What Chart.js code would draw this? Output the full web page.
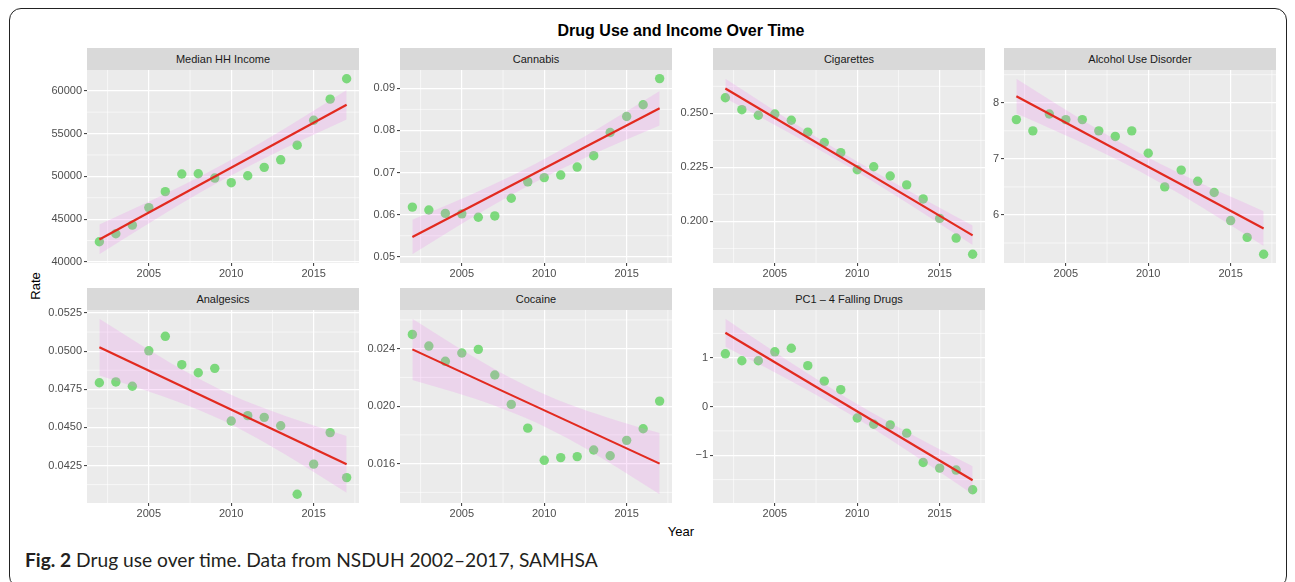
<!DOCTYPE html>
<html lang="en">
<head>
<meta charset="UTF-8">
<title>Drug Use and Income Over Time</title>
<script src="https://cdn.jsdelivr.net/npm/chart.js"></script>
<style>
  body { margin: 0; background: #fff; width: 1295px; height: 582px; position: relative; overflow: hidden;
         font-family: 'Liberation Sans', Arial, sans-serif; }
  #frame { position: absolute; left: 9px; top: 8px; width: 1276px; height: 578px; border: 1.5px solid #222; border-radius: 12px; }
  #title { position: absolute; left: 87px; width: 1188px; top: 22px; text-align: center; font-weight: bold;
           font-size: 16px; line-height: 18px; color: #000; }
  .strip { position: absolute; width: 272px; height: 22px; line-height: 22px; background: #d9d9d9; color: #1a1a1a;
           font-size: 11px; text-align: center; }
  .panel { position: absolute; }
  #ylab { position: absolute; left: 35px; top: 286px; transform: translate(-50%, -50%) rotate(-90deg); font-size: 13px; color: #000; }
  #xlab { position: absolute; left: 681px; top: 531px; transform: translate(-50%, -50%); font-size: 13px; color: #000; }
  #caption { position: absolute; left: 25px; top: 548px; font-family: Lato, sans-serif; font-size: 19.2px; color: #231f20; white-space: nowrap; }
</style>
</head>
<body>
  <div id="frame"></div>
  <div id="title">Drug Use and Income Over Time</div>
  <div id="ylab">Rate</div>
  <div id="xlab">Year</div>
  <div id="caption"><b>Fig. 2</b> Drug use over time. Data from NSDUH 2002–2017, SAMHSA</div>
  <div id="panels"></div>
<script>
// survey years
const years = [2002, 2003, 2004, 2005, 2006, 2007, 2008, 2009, 2010, 2011, 2012, 2013, 2014, 2015, 2016, 2017];

// yearly values per facet
const incomeRate     = [42360, 43290, 44300, 46350, 48210, 50270, 50300, 49800, 49260, 50070, 51050, 51930, 53640, 56550, 59020, 61400];
const cannabisRate   = [0.0618, 0.0611, 0.0603, 0.0602, 0.0594, 0.0597, 0.0639, 0.0678, 0.0688, 0.0694, 0.0713, 0.0740, 0.0795, 0.0833, 0.0861, 0.0923];
const cigaretteRate  = [0.2572, 0.2517, 0.2491, 0.2497, 0.2468, 0.2413, 0.2365, 0.2318, 0.2239, 0.2253, 0.2210, 0.2169, 0.2104, 0.2014, 0.1923, 0.1848];
const alcoholRate    = [7.7, 7.5, 7.8, 7.7, 7.7, 7.5, 7.4, 7.5, 7.1, 6.5, 6.8, 6.6, 6.4, 5.9, 5.6, 5.3];
const analgesicRate  = [0.04793, 0.04798, 0.04770, 0.05002, 0.05097, 0.04911, 0.04858, 0.04887, 0.04542, 0.04577, 0.04566, 0.04511, 0.04062, 0.04259, 0.04466, 0.04171];
const cocaineRate    = [0.02499, 0.02418, 0.02312, 0.02370, 0.02395, 0.02217, 0.02012, 0.01847, 0.01623, 0.01642, 0.01649, 0.01695, 0.01655, 0.01762, 0.01843, 0.02035];
const pc1Rate        = [1.081, 0.939, 0.939, 1.122, 1.196, 0.838, 0.520, 0.345, -0.236, -0.365, -0.378, -0.547, -1.149, -1.264, -1.304, -1.709];

// linear trend ends and confidence band edges
const fitYears  = [2002, 2017];
const bandYears = [2002, 2004.5, 2007, 2009.5, 2012, 2014.5, 2017];

const incomeFit = [42630, 58370];
const incomeLo  = [40900, 43916, 46846, 49594, 52092, 54410, 56640];
const incomeHi  = [44360, 46590, 48908, 51406, 54154, 57084, 60100];

const cannabisFit = [0.05471, 0.08527];
const cannabisLo  = [0.05061, 0.05663, 0.06246, 0.06784, 0.07264, 0.07701, 0.08117];
const cannabisHi  = [0.05881, 0.06297, 0.06734, 0.07214, 0.07752, 0.08335, 0.08937];

const cigaretteFit = [0.26150, 0.19356];
const cigaretteLo  = [0.25700, 0.24670, 0.23617, 0.22517, 0.21353, 0.20140, 0.18906];
const cigaretteHi  = [0.26600, 0.25366, 0.24153, 0.22989, 0.21889, 0.20836, 0.19806];

const alcoholFit = [8.118, 5.758];
const alcoholLo  = [7.808, 7.485, 7.146, 6.776, 6.360, 5.912, 5.448];
const alcoholHi  = [8.428, 7.964, 7.516, 7.100, 6.730, 6.391, 6.068];

const analgesicFit = [0.05026, 0.04258];
const analgesicLo  = [0.04840, 0.04754, 0.04659, 0.04545, 0.04403, 0.04242, 0.04072];
const analgesicHi  = [0.05212, 0.05042, 0.04881, 0.04739, 0.04625, 0.04530, 0.04444];

const cocaineFit = [0.02395, 0.01600];
const cocaineLo  = [0.02182, 0.02098, 0.02003, 0.01886, 0.01738, 0.01568, 0.01387];
const cocaineHi  = [0.02608, 0.02427, 0.02257, 0.02109, 0.01992, 0.01897, 0.01813];

const pc1Fit = [1.514, -1.514];
const pc1Lo  = [1.228, 0.788, 0.334, -0.150, -0.675, -1.230, -1.800];
const pc1Hi  = [1.800, 1.230, 0.675, 0.150, -0.334, -0.788, -1.228];

// axes: limits, breaks and labels
const xRange  = [2001.25, 2017.75];
const xMajor  = [2005, 2010, 2015];
const xLabels = ['2005', '2010', '2015'];
const xMinor  = [2002.5, 2007.5, 2012.5, 2017.5];

const incomeRange  = [39875, 62425];
const incomeTicks  = [40000, 45000, 50000, 55000, 60000];
const incomeLabels = ['40000', '45000', '50000', '55000', '60000'];
const incomeMinor  = [42500, 47500, 52500, 57500];

const cannabisRange  = [0.04853, 0.09434];
const cannabisTicks  = [0.05, 0.06, 0.07, 0.08, 0.09];
const cannabisLabels = ['0.05', '0.06', '0.07', '0.08', '0.09'];
const cannabisMinor  = [0.055, 0.065, 0.075, 0.085];

const cigaretteRange  = [0.18076, 0.27006];
const cigaretteTicks  = [0.200, 0.225, 0.250];
const cigaretteLabels = ['0.200', '0.225', '0.250'];
const cigaretteMinor  = [0.1875, 0.2125, 0.2375, 0.2625];

const alcoholRange  = [5.1436, 8.5844];
const alcoholTicks  = [6, 7, 8];
const alcoholLabels = ['6', '7', '8'];
const alcoholMinor  = [5.5, 6.5, 7.5, 8.5];

const analgesicRange  = [0.040045, 0.052695];
const analgesicTicks  = [0.0425, 0.0450, 0.0475, 0.0500, 0.0525];
const analgesicLabels = ['0.0425', '0.0450', '0.0475', '0.0500', '0.0525'];
const analgesicMinor  = [0.04125, 0.04375, 0.04625, 0.04875, 0.05125];

const cocaineRange  = [0.01326, 0.02669];
const cocaineTicks  = [0.016, 0.020, 0.024];
const cocaineLabels = ['0.016', '0.020', '0.024'];
const cocaineMinor  = [0.014, 0.018, 0.022, 0.026];

const pc1Range  = [-1.98, 1.98];
const pc1Ticks  = [-1, 0, 1];
const pc1Labels = ['\u22121', '0', '1'];
const pc1Minor  = [-1.5, -0.5, 0.5, 1.5];

const facets = [
  { name: 'Median HH Income',    rate: incomeRate,    fit: incomeFit,    lo: incomeLo,    hi: incomeHi,    range: incomeRange,    ticks: incomeTicks,    labels: incomeLabels,    minor: incomeMinor },
  { name: 'Cannabis',            rate: cannabisRate,  fit: cannabisFit,  lo: cannabisLo,  hi: cannabisHi,  range: cannabisRange,  ticks: cannabisTicks,  labels: cannabisLabels,  minor: cannabisMinor },
  { name: 'Cigarettes',          rate: cigaretteRate, fit: cigaretteFit, lo: cigaretteLo, hi: cigaretteHi, range: cigaretteRange, ticks: cigaretteTicks, labels: cigaretteLabels, minor: cigaretteMinor },
  { name: 'Alcohol Use Disorder', rate: alcoholRate,  fit: alcoholFit,   lo: alcoholLo,   hi: alcoholHi,   range: alcoholRange,   ticks: alcoholTicks,   labels: alcoholLabels,   minor: alcoholMinor },
  { name: 'Analgesics',          rate: analgesicRate, fit: analgesicFit, lo: analgesicLo, hi: analgesicHi, range: analgesicRange, ticks: analgesicTicks, labels: analgesicLabels, minor: analgesicMinor },
  { name: 'Cocaine',             rate: cocaineRate,   fit: cocaineFit,   lo: cocaineLo,   hi: cocaineHi,   range: cocaineRange,   ticks: cocaineTicks,   labels: cocaineLabels,   minor: cocaineMinor },
  { name: 'PC1 \u2013 4 Falling Drugs', rate: pc1Rate, fit: pc1Fit,      lo: pc1Lo,       hi: pc1Hi,       range: pc1Range,       ticks: pc1Ticks,       labels: pc1Labels,       minor: pc1Minor }
];

// facet grid geometry (plot area of each panel)
const colLeft = [87, 400, 713, 1004];
const rowTop = [70, 310];
const PW = 272, PH = 193, STRIP = 22;
const YW = 50, XH = 22, M = 8;

Chart.defaults.font.family = "'Liberation Sans', Arial, sans-serif";
Chart.defaults.font.size = 11;
Chart.defaults.color = '#4d4d4d';

const zip = (xs, ys) => xs.map((x, i) => ({ x: x, y: ys[i] }));

function panelBackground(minorX, minorY) {
  return {
    id: 'panelBackground',
    beforeDraw(chart) {
      const { ctx, chartArea: a, scales } = chart;
      ctx.save();
      ctx.fillStyle = '#ebebeb';
      ctx.fillRect(a.left, a.top, a.width, a.height);
      ctx.strokeStyle = '#ffffff';
      ctx.lineWidth = 0.6;
      ctx.beginPath();
      minorX.forEach(v => {
        const x = scales.x.getPixelForValue(v);
        if (x > a.left && x < a.right) { ctx.moveTo(x, a.top); ctx.lineTo(x, a.bottom); }
      });
      minorY.forEach(v => {
        const y = scales.y.getPixelForValue(v);
        if (y > a.top && y < a.bottom) { ctx.moveTo(a.left, y); ctx.lineTo(a.right, y); }
      });
      ctx.stroke();
      ctx.restore();
    }
  };
}

function noPadding(s) { s.paddingTop = 0; s.paddingBottom = 0; s.paddingLeft = 0; s.paddingRight = 0; }

const host = document.getElementById('panels');
facets.forEach((f, k) => {
  const col = k % 4, row = Math.floor(k / 4);
  const left = colLeft[col], top = rowTop[row];

  const strip = document.createElement('div');
  strip.className = 'strip';
  strip.style.left = left + 'px';
  strip.style.top = (top - STRIP) + 'px';
  strip.textContent = f.name;
  host.appendChild(strip);

  const canvas = document.createElement('canvas');
  canvas.className = 'panel';
  canvas.width = YW + PW + M;
  canvas.height = M + PH + XH;
  canvas.style.left = (left - YW) + 'px';
  canvas.style.top = (top - M) + 'px';
  canvas.style.width = canvas.width + 'px';
  canvas.style.height = canvas.height + 'px';
  host.appendChild(canvas);

  new Chart(canvas, {
    type: 'scatter',
    data: {
      datasets: [
        { data: zip(years, f.rate), pointRadius: 4.7, pointBorderWidth: 0,
          pointBackgroundColor: 'rgba(80, 208, 80, 0.72)', order: 3 },
        { data: zip(bandYears, f.lo), showLine: true, borderWidth: 0, borderColor: 'rgba(0,0,0,0)',
          pointRadius: 0, cubicInterpolationMode: 'monotone', fill: false, order: 2 },
        { data: zip(bandYears, f.hi), showLine: true, borderWidth: 0, borderColor: 'rgba(0,0,0,0)',
          pointRadius: 0, cubicInterpolationMode: 'monotone', fill: '-1',
          backgroundColor: 'rgba(238, 130, 238, 0.22)', order: 2 },
        { data: zip(fitYears, f.fit), showLine: true, borderWidth: 2.2, borderColor: '#e22a1f',
          pointRadius: 0, fill: false, order: 1 }
      ]
    },
    options: {
      responsive: false,
      animation: false,
      events: [],
      layout: { padding: { top: M, right: M, left: 0, bottom: 0 } },
      plugins: { legend: { display: false }, tooltip: { enabled: false } },
      scales: {
        x: {
          type: 'linear', min: xRange[0], max: xRange[1],
          afterBuildTicks: s => { s.ticks = xMajor.map(v => ({ value: v })); },
          afterFit: s => { s.height = XH; noPadding(s); },
          ticks: { autoSkip: false, maxRotation: 0, padding: 1, callback: (v, i) => xLabels[i] },
          grid: { color: '#ffffff', lineWidth: 1.2, tickLength: 3, tickColor: '#333333', tickWidth: 1 },
          border: { display: false }
        },
        y: {
          type: 'linear', min: f.range[0], max: f.range[1],
          afterBuildTicks: s => { s.ticks = f.ticks.map(v => ({ value: v })); },
          afterFit: s => { s.width = YW; noPadding(s); },
          ticks: { autoSkip: false, padding: 2, callback: (v, i) => f.labels[i] },
          grid: { color: '#ffffff', lineWidth: 1.2, tickLength: 3, tickColor: '#333333', tickWidth: 1 },
          border: { display: false }
        }
      }
    },
    plugins: [panelBackground(xMinor, f.minor)]
  });
});
</script>
</body>
</html>
